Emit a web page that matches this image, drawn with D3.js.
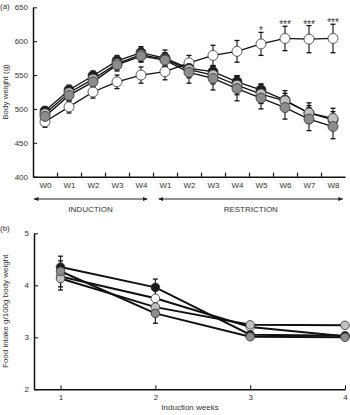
<!DOCTYPE html>
<html>
<head>
<meta charset="utf-8">
<script src="https://cdn.jsdelivr.net/npm/d3@7"></script>
<style>
  html, body { margin: 0; padding: 0; background: #fff; }
  svg { display: block; font-family: "Liberation Sans", Arial, sans-serif; }
  .axis path, .axis line { stroke: #111; }
  .axis text { fill: #333; }
</style>
</head>
<body>
<div id="chart"></div>
<script>
// ---- panel (a): body weight ----
const weekLabels = ['W0', 'W1', 'W2', 'W3', 'W4', 'W1', 'W2', 'W3', 'W4', 'W5', 'W6', 'W7', 'W8'];
const stars = ['', '', '', '', '', '', '', '', '', '*', '***', '***', '***'];
const weightTicks = [400, 450, 500, 550, 600, 650];

const weightWhite = [481, 503, 525, 540, 550, 555, 568, 579, 585, 596, 604, 603, 604];
const weightWhiteSem = [8, 9, 9, 10, 12, 12, 11, 15, 16, 17, 18, 20, 21];
const weightBlack = [497, 528, 549, 571, 583, 575, 560, 555, 540, 528, 513, 494, 484];
const weightBlackSem = [6, 7, 7, 8, 9, 12, 9, 9, 9, 9, 10, 11, 12];
const weightLight = [493, 524, 544, 567, 580, 573, 558, 550, 535, 522, 512, 494, 486];
const weightLightSem = [7, 8, 8, 9, 10, 10, 12, 13, 14, 14, 15, 15, 15];
const weightDark = [489, 520, 540, 565, 578, 572, 554, 545, 530, 516, 502, 485, 474];
const weightDarkSem = [7, 8, 8, 9, 9, 10, 16, 17, 18, 16, 17, 17, 18];

// ---- panel (b): food intake ----
const intakeWeeks = [1, 2, 3, 4];
const intakeTicks = [2, 3, 4, 5];
const intakeWhite = [4.17, 3.75, 3.20, 3.02];
const intakeWhiteSem = [0.2, 0.15, 0.04, 0.04];
const intakeBlack = [4.35, 3.96, 3.05, 3.03];
const intakeBlackSem = [0.21, 0.16, 0.04, 0.04];
const intakeLight = [4.13, 3.58, 3.24, 3.23];
const intakeLightSem = [0.22, 0.15, 0.04, 0.04];
const intakeDark = [4.27, 3.46, 3.01, 3.00];
const intakeDarkSem = [0.2, 0.19, 0.04, 0.04];

const C = { white: '#ffffff', black: '#1c1c1c', light: '#c2c2c2', dark: '#8c8c8c', line: '#111', edge: '#333' };

const W = 350, H = 415;
const svg = d3.select('#chart').append('svg')
  .attr('width', W).attr('height', H)
  .attr('viewBox', `0 0 ${W} ${H}`);

function drawPanel(g, x, xs, seriesList, y, r, lw) {
  // lines
  seriesList.forEach(s => {
    g.append('path')
      .datum(s.vals.map((v, i) => ({ x: xs[i], v })))
      .attr('fill', 'none')
      .attr('stroke', C.line)
      .attr('stroke-width', lw)
      .attr('d', d3.line().x(d => x(d.x)).y(d => y(d.v)));
  });
  // error bars
  seriesList.forEach(s => {
    const eb = g.append('g');
    s.vals.forEach((v, i) => {
      const cx = x(xs[i]);
      const lo = y(v - s.sem[i]), hi = y(v + s.sem[i]);
      eb.append('line').attr('x1', cx).attr('x2', cx).attr('y1', lo).attr('y2', hi)
        .attr('stroke', C.line).attr('stroke-width', 1.1);
      [lo, hi].forEach(yy => eb.append('line')
        .attr('x1', cx - 2.5).attr('x2', cx + 2.5).attr('y1', yy).attr('y2', yy)
        .attr('stroke', C.line).attr('stroke-width', 1.3));
    });
  });
  // circles
  seriesList.forEach(s => {
    g.selectAll(null)
      .data(s.vals.map((v, i) => ({ x: xs[i], v })))
      .enter().append('circle')
      .attr('cx', d => x(d.x))
      .attr('cy', d => y(d.v))
      .attr('r', r)
      .attr('fill', s.color)
      .attr('stroke', C.edge)
      .attr('stroke-width', 0.8);
  });
}

// ===== panel (a) =====
const ga = svg.append('g');
const xa = d3.scaleLinear().domain([-0.5, 12.5]).range([33, 345]);
const ya = d3.scaleLinear().domain([400, 650]).range([176.7, 7.3]);
const idx = d3.range(weekLabels.length);

ga.append('g').attr('class', 'axis')
  .attr('transform', 'translate(33,0)')
  .call(d3.axisLeft(ya).tickValues(weightTicks).tickSizeInner(-4).tickSizeOuter(0).tickPadding(5))
  .call(g => g.selectAll('text').style('font-size', '8px'))
  .call(g => g.select('.domain').attr('stroke-width', 1.5));

ga.append('g').attr('class', 'axis')
  .attr('transform', 'translate(0,176.7)')
  .call(d3.axisBottom(xa).tickValues(idx).tickFormat(i => weekLabels[i]).tickSize(0).tickPadding(6))
  .call(g => g.selectAll('text').style('font-size', '8px'))
  .call(g => g.select('.domain').attr('stroke-width', 1.5));

ga.append('g').attr('class', 'axis')
  .attr('transform', 'translate(0,176.7)')
  .call(d3.axisBottom(xa).tickValues(idx.slice(0, -1).map(i => i + 0.5)).tickFormat('').tickSizeInner(-4).tickSizeOuter(0))
  .call(g => g.select('.domain').remove())
  .call(g => g.selectAll('line').attr('stroke-width', 1.2));

drawPanel(ga, xa, idx, [
  { vals: weightWhite, sem: weightWhiteSem, color: C.white },
  { vals: weightBlack, sem: weightBlackSem, color: C.black },
  { vals: weightLight, sem: weightLightSem, color: C.light },
  { vals: weightDark, sem: weightDarkSem, color: C.dark }
], ya, 5, 1.3);

ga.selectAll('text.star')
  .data(idx.filter(i => stars[i]))
  .enter().append('text')
  .attr('class', 'star')
  .attr('x', i => xa(i))
  .attr('y', i => ya(weightWhite[i] + weightWhiteSem[i]) + 2)
  .attr('text-anchor', 'middle')
  .style('font-size', '10px')
  .style('fill', '#333')
  .text(i => stars[i]);

ga.append('text')
  .attr('transform', `translate(8,${(ya(400) + ya(650)) / 2}) rotate(-90)`)
  .attr('text-anchor', 'middle')
  .style('font-size', '8px').style('fill', '#333')
  .text('Body weight (g)');

ga.append('text').attr('x', 0).attr('y', 9)
  .style('font-size', '8px').style('fill', '#333').text('(a)');

// phase arrows
const defs = svg.append('defs');
defs.append('marker').attr('id', 'ah')
  .attr('viewBox', '0 0 10 10').attr('refX', 9).attr('refY', 5)
  .attr('markerWidth', 5).attr('markerHeight', 5)
  .attr('orient', 'auto-start-reverse')
  .append('path').attr('d', 'M0,1 L10,5 L0,9 Z').attr('fill', '#222');

const phases = [
  { label: 'INDUCTION', from: -0.5, to: 4.3 },
  { label: 'RESTRICTION', from: 4.7, to: 12.45 }
];
phases.forEach(p => {
  ga.append('line')
    .attr('x1', xa(p.from) + 1).attr('x2', xa(p.to) - 1)
    .attr('y1', 199).attr('y2', 199)
    .attr('stroke', '#222').attr('stroke-width', 1)
    .attr('marker-start', 'url(#ah)').attr('marker-end', 'url(#ah)');
  ga.append('text')
    .attr('x', (xa(p.from) + xa(p.to)) / 2).attr('y', 212)
    .attr('text-anchor', 'middle')
    .style('font-size', '8px').style('fill', '#333')
    .text(p.label);
});

// ===== panel (b) =====
const gb = svg.append('g');
const xb = d3.scaleLinear().domain([0.72, 4]).range([34, 345]);
const yb = d3.scaleLinear().domain([2, 5]).range([389.3, 233.3]);

gb.append('g').attr('class', 'axis')
  .attr('transform', 'translate(34,0)')
  .call(d3.axisLeft(yb).tickValues(intakeTicks).tickFormat(d3.format('d')).tickSizeInner(-4).tickSizeOuter(0).tickPadding(5))
  .call(g => g.selectAll('text').style('font-size', '8px'))
  .call(g => g.select('.domain').attr('stroke-width', 1.5));

gb.append('g').attr('class', 'axis')
  .attr('transform', 'translate(0,389.3)')
  .call(d3.axisBottom(xb).tickValues(intakeWeeks).tickFormat(d3.format('d')).tickSizeInner(-4).tickSizeOuter(0).tickPadding(5))
  .call(g => g.selectAll('text').style('font-size', '8px'))
  .call(g => g.select('.domain').attr('stroke-width', 1.5));

drawPanel(gb, xb, intakeWeeks, [
  { vals: intakeWhite, sem: intakeWhiteSem, color: C.white },
  { vals: intakeBlack, sem: intakeBlackSem, color: C.black },
  { vals: intakeLight, sem: intakeLightSem, color: C.light },
  { vals: intakeDark, sem: intakeDarkSem, color: C.dark }
], yb, 4.3, 2);

gb.append('text')
  .attr('transform', `translate(8,${(yb(2) + yb(5)) / 2}) rotate(-90)`)
  .attr('text-anchor', 'middle')
  .style('font-size', '8px').style('fill', '#333')
  .text('Food intake g/100g body weight');

gb.append('text')
  .attr('x', 190).attr('y', 410)
  .attr('text-anchor', 'middle')
  .style('font-size', '8px').style('fill', '#333')
  .text('Induction weeks');

gb.append('text').attr('x', 0).attr('y', 231)
  .style('font-size', '8px').style('fill', '#333').text('(b)');
</script>
</body>
</html>
